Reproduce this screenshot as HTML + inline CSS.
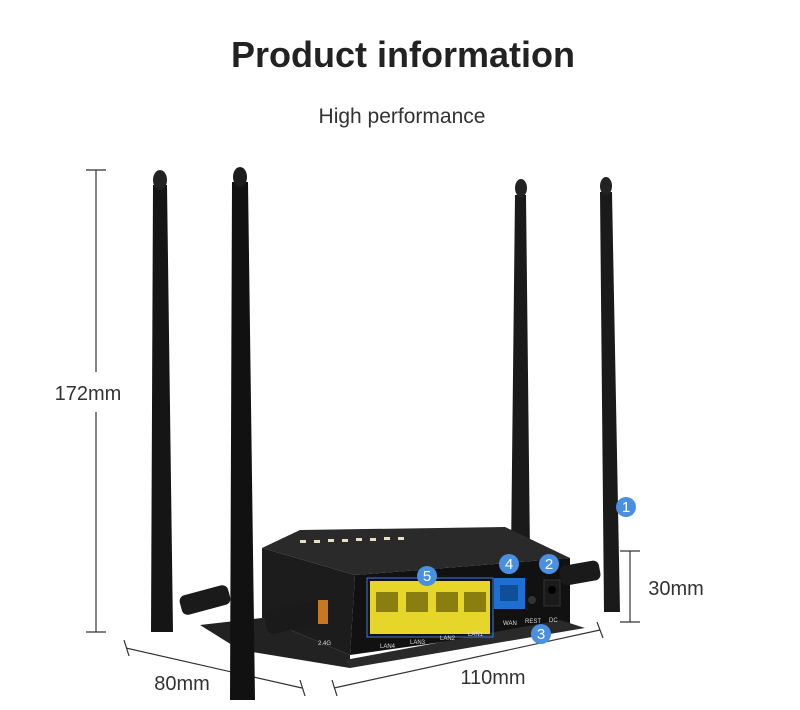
<!DOCTYPE html>
<html><head><style>
body{margin:0;background:#fff;}
svg{display:block}
text{font-family:"Liberation Sans",sans-serif;}
</style></head><body>
<svg width="800" height="710" viewBox="0 0 800 710">
<text x="403" y="67" font-size="36" font-weight="bold" text-anchor="middle" fill="#222">Product information</text>
<text x="402" y="123" font-size="21" text-anchor="middle" fill="#333">High performance</text>
<!-- dimension lines -->
<g stroke="#333" stroke-width="1.2" fill="none">
<line x1="96" y1="170" x2="96" y2="372"/><line x1="96" y1="412" x2="96" y2="632"/>
<line x1="86" y1="170" x2="106" y2="170"/><line x1="86" y1="632" x2="106" y2="632"/>
<line x1="630" y1="551" x2="630" y2="622"/><line x1="620" y1="551" x2="640" y2="551"/><line x1="620" y1="622" x2="640" y2="622"/>
<line x1="126" y1="648" x2="302" y2="688"/><line x1="124" y1="640" x2="129" y2="656"/><line x1="300" y1="680" x2="305" y2="696"/>
<line x1="334" y1="688" x2="600" y2="630"/><line x1="332" y1="680" x2="337" y2="696"/><line x1="597" y1="622" x2="603" y2="638"/>
</g>
<text x="88" y="400" font-size="20" text-anchor="middle" fill="#333">172mm</text>
<text x="676" y="595" font-size="20" text-anchor="middle" fill="#333">30mm</text>
<text x="182" y="690" font-size="20" text-anchor="middle" fill="#333">80mm</text>
<text x="493" y="684" font-size="20" text-anchor="middle" fill="#333">110mm</text>
<!-- back antennas -->
<polygon points="515,195 526,195 530,555 511,555" fill="#1a1a1a"/>
<ellipse cx="521" cy="188" rx="6" ry="9" fill="#222"/>
<polygon points="600,192 612,192 620,612 604,612" fill="#1a1a1a"/>
<ellipse cx="606" cy="186" rx="6" ry="9" fill="#222"/>
<polygon points="153,185 167,185 173,632 151,632" fill="#151515"/>
<ellipse cx="160" cy="180" rx="7" ry="10" fill="#222"/>
<!-- router body -->
<polygon points="262,548 300,530 505,527 570,558 355,575" fill="#2a2a2a"/>
<polygon points="262,548 355,575 350,655 262,618" fill="#1c1c1c"/>
<polygon points="355,575 570,558 570,624 350,655" fill="#111"/>
<polygon points="200,625 262,618 350,655 350,668 240,650" fill="#222"/>
<polygon points="560,620 585,628 350,668 345,660" fill="#2a2a2a"/>
<g fill="#e8e0c0"><rect x="300" y="540" width="6" height="3"/><rect x="314" y="540" width="6" height="3"/><rect x="328" y="539" width="6" height="3"/><rect x="342" y="539" width="6" height="3"/><rect x="356" y="538" width="6" height="3"/><rect x="370" y="538" width="6" height="3"/><rect x="384" y="537" width="6" height="3"/><rect x="398" y="537" width="6" height="3"/></g>
<!-- side antenna connectors -->
<rect x="560" y="563" width="40" height="20" rx="6" fill="#1a1a1a" transform="rotate(-10 580 573)"/>
<rect x="265" y="605" width="60" height="24" rx="6" fill="#1a1a1a" transform="rotate(-12 295 617)"/>
<rect x="318" y="600" width="10" height="24" fill="#c8781e"/>
<rect x="180" y="590" width="50" height="20" rx="6" fill="#1a1a1a" transform="rotate(-15 205 600)"/>
<!-- ports -->
<rect x="367" y="578" width="126" height="59" fill="none" stroke="#3a7bd5" stroke-width="1"/>
<rect x="370" y="581" width="120" height="53" fill="#e6d629"/>
<g fill="#8a7e10"><rect x="376" y="592" width="22" height="20"/><rect x="406" y="592" width="22" height="20"/><rect x="436" y="592" width="22" height="20"/><rect x="464" y="592" width="22" height="20"/></g>
<rect x="494" y="578" width="31" height="31" fill="#1f6fd0"/>
<rect x="500" y="585" width="18" height="16" fill="#0f4f9a"/>
<circle cx="532" cy="600" r="4" fill="#333"/>
<rect x="544" y="580" width="16" height="26" fill="#1a1a1a" stroke="#333"/>
<circle cx="552" cy="590" r="4" fill="#000"/>
<g font-size="6" fill="#ddd"><text x="380" y="648">LAN4</text><text x="410" y="644">LAN3</text><text x="440" y="640">LAN2</text><text x="468" y="636">LAN1</text><text x="503" y="625">WAN</text><text x="525" y="623">REST</text><text x="549" y="622">DC</text><text x="318" y="645">2.4G</text></g>
<!-- front antenna -->
<polygon points="232,182 248,182 255,700 230,700" fill="#111"/>
<ellipse cx="240" cy="177" rx="7" ry="10" fill="#1c1c1c"/>
<!-- badges -->
<g fill="#4a90e2"><circle cx="427" cy="576" r="10"/><circle cx="509" cy="564" r="10"/><circle cx="549" cy="564" r="10"/><circle cx="541" cy="634" r="10"/><circle cx="626" cy="507" r="10"/></g>
<g font-size="15" fill="#fff" text-anchor="middle"><text x="427" y="581">5</text><text x="509" y="569">4</text><text x="549" y="569">2</text><text x="541" y="639">3</text><text x="626" y="512">1</text></g>
</svg>
</body></html>
